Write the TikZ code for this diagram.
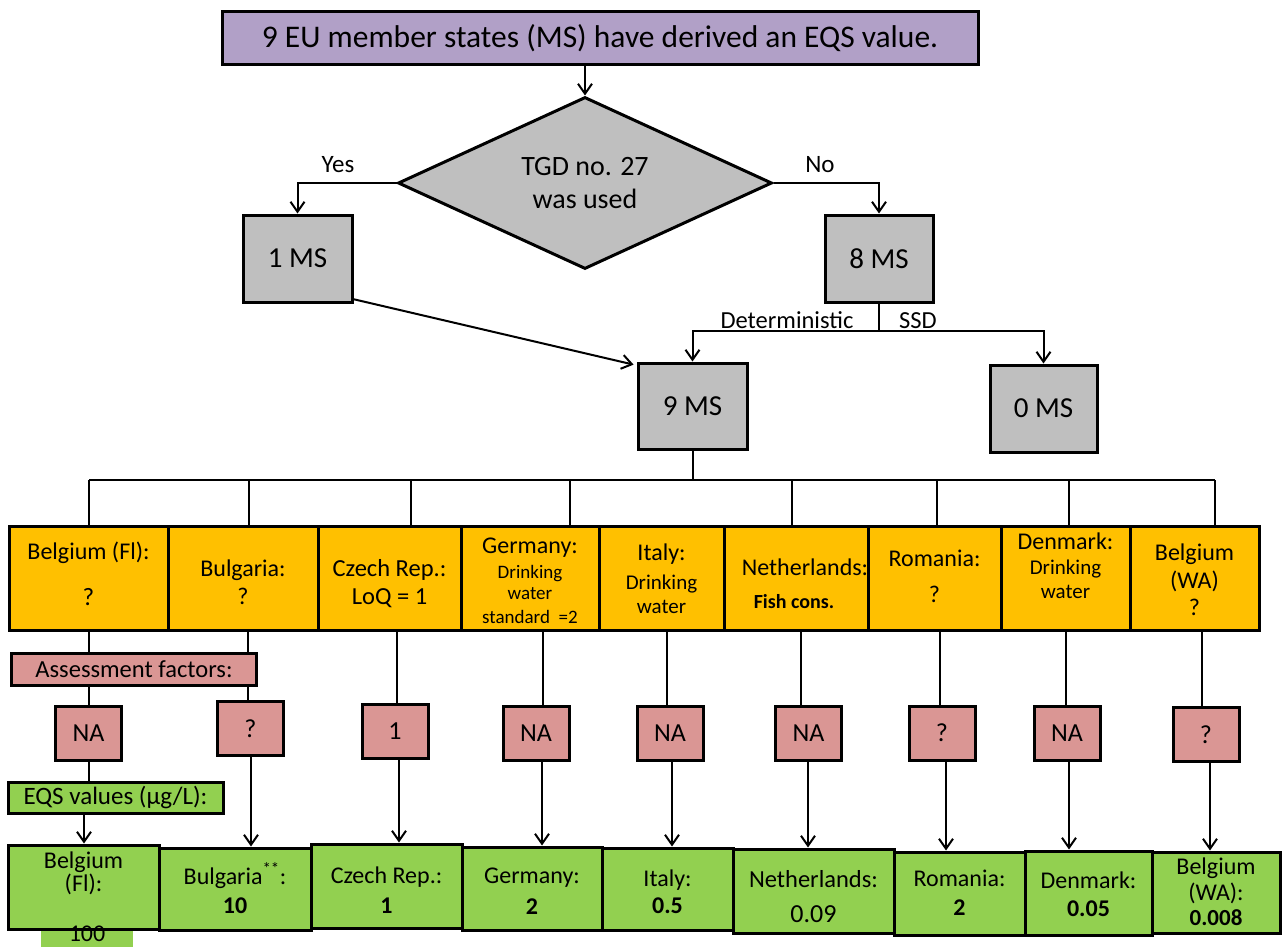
\documentclass[tikz,border=0pt]{standalone}
\usepackage{fontspec}
\setmainfont{Carlito}
\usetikzlibrary{shapes.geometric,arrows.meta}
\newcommand\fsz[1]{\fontsize{#1}{#1}\selectfont}
\definecolor{hdrpurple}{RGB}{177,160,199}
\definecolor{msgray}{RGB}{191,191,191}
\definecolor{msorange}{RGB}{255,192,0}
\definecolor{afpink}{RGB}{218,150,148}
\definecolor{eqsgreen}{RGB}{146,208,80}

\begin{document}
\begin{tikzpicture}[x=1pt,y=-1pt,
  box/.style={draw=black,line width=3pt,inner sep=0pt,align=center,text=black},
  msbox/.style={box,fill=msgray,minimum height=87pt,font=\fsz{29}},
  obox/.style={box,fill=msorange,minimum height=104pt},
  pbox/.style={box,fill=afpink,minimum width=66pt,minimum height=54pt,font=\fsz{26}},
  gbox/.style={box,fill=eqsgreen},
  lbl/.style={inner sep=0pt,anchor=base,align=center,text=black},
  link/.style={line width=2pt},
  arr/.style={line width=2pt,-{Straight Barb[length=10pt,width=14pt]}},
]
\useasboundingbox (0,0) rectangle (1283,947);
\clip (0,0) rectangle (1283,947);

% ---- decision part ----
\node[box,fill=hdrpurple,minimum width=756pt,minimum height=53pt,font=\fsz{31.5}]
  (title) at (600,38.5) {9 EU member states (MS) have derived an EQS value.};
\node[box,diamond,fill=msgray,aspect=2.17,minimum width=374pt,minimum height=172pt,
  font=\fontsize{28}{33}\selectfont] (dec) at (585,183) {TGD no. 27\\was used};
\draw[arr] (dec.north |- title.south) -- (dec.north);

\node[msbox,minimum width=109pt] (ms1) at (297.5,258.5) {1 MS};
\node[msbox,minimum width=108pt] (ms8) at (879,258.5) {8 MS};
\node[msbox,minimum width=109pt,minimum height=86pt] (ms9) at (692.5,406) {9 MS};
\node[msbox,minimum width=107pt] (ms0) at (1043.5,408.5) {0 MS};

\draw[arr] (dec.west) -| (ms1.north);
\draw[arr] (dec.east) -| (ms8.north);
\node[font=\fsz{25},inner sep=0pt] (yes) at (338,165) {Yes};
\node[font=\fsz{25},inner sep=0pt] (no) at (820,165) {No};

\draw[arr,shorten >=3pt] (ms1.-36) -- (ms9.144);

\coordinate (split) at (879,331);
\draw[link] (ms8.south) -- (split);
\draw[arr] (split) -| (ms9.north);
\draw[arr] (split) -| (ms0.north);
\node[lbl,font=\fsz{24.5}] (det) at (787,328) {Deterministic};
\node[lbl,font=\fsz{24.5}] (ssd) at (918,328) {SSD};

% ---- member state boxes ----
\node[obox,minimum width=159pt] (o1) at (88.5,578) {};
\node[obox,minimum width=150pt] (o2) at (243,578) {};
\node[obox,minimum width=143pt] (o3) at (389.5,578) {};
\node[obox,minimum width=138pt] (o4) at (530,578) {};
\node[obox,minimum width=125pt] (o5) at (661.5,578) {};
\node[obox,minimum width=144pt] (o6) at (796,578) {};
\node[obox,minimum width=133pt] (o7) at (934.5,578) {};
\node[obox,minimum width=129pt] (o8) at (1065.5,578) {};
\node[obox,minimum width=129pt] (o9) at (1194.5,578) {};

\node[lbl,font=\fsz{24}] (t1a) at (88.5,559) {Belgium (Fl):};
\node[lbl,font=\fsz{25}] (t1b) at (88.5,605) {?};
\node[lbl,font=\fsz{24}] (t2a) at (243,576) {Bulgaria:};
\node[lbl,font=\fsz{24}] (t2b) at (243,604) {?};
\node[lbl,font=\fsz{24.5}] (t3a) at (389.5,576) {Czech Rep.:};
\node[lbl,font=\fsz{24.5}] (t3b) at (389.5,604) {LoQ = 1};
\node[lbl,font=\fsz{24}] (t4a) at (530,553) {Germany:};
\node[lbl,font=\fsz{19}] (t4b) at (530,578) {Drinking};
\node[lbl,font=\fsz{19}] (t4c) at (530,599) {water};
\node[lbl,font=\fsz{19}] (t4d) at (530,623) {standard\ \ =2};
\node[lbl,font=\fsz{24}] (t5a) at (661.5,560) {Italy:};
\node[lbl,font=\fsz{21}] (t5b) at (661.5,589) {Drinking};
\node[lbl,font=\fsz{21}] (t5c) at (661.5,613) {water};
\node[lbl,font=\fsz{24}] (t6a) at (805,575) {Netherlands:};
\node[lbl,font=\bfseries\fsz{20}] (t6b) at (794,608) {Fish cons.};
\node[lbl,font=\fsz{24}] (t7a) at (934.5,566) {Romania:};
\node[lbl,font=\fsz{24}] (t7b) at (934.5,602) {?};
\node[lbl,font=\fsz{24}] (t8a) at (1065.5,549) {Denmark:};
\node[lbl,font=\fsz{21}] (t8b) at (1065.5,574) {Drinking};
\node[lbl,font=\fsz{21}] (t8c) at (1065.5,598) {water};
\node[lbl,font=\fsz{24}] (t9a) at (1194.5,560) {Belgium};
\node[lbl,font=\fsz{24}] (t9b) at (1194.5,588) {(WA)};
\node[lbl,font=\fsz{24}] (t9c) at (1194.5,615) {?};

% bus from 9 MS to the member state boxes
\foreach \x/\o in {89/o1,249/o2,411/o3,570/o4,792/o6,937/o7,1069/o8,1215/o9} {
  \coordinate (d\o) at (\x,480);
  \draw[link] (d\o) -- (d\o |- \o.north);
}
\draw[link] (do1) -- (do9);
\draw[link] (ms9.south) -- (ms9.south |- do1);

% ---- assessment factors ----
\node[box,fill=afpink,minimum width=245pt,minimum height=32pt,font=\fsz{24.5}]
  (af) at (134,669) {Assessment factors:};
\node[pbox] (p1) at (88.5,733) {NA};
\node[pbox] (p2) at (250.5,728.5) {?};
\node[pbox] (p3) at (395,731.5) {1};
\node[pbox] (p4) at (536,733) {NA};
\node[pbox] (p5) at (670,733) {NA};
\node[pbox] (p6) at (808.5,733) {NA};
\node[pbox] (p7) at (942,733) {?};
\node[pbox] (p8) at (1067,733) {NA};
\node[pbox] (p9) at (1206,734.5) {?};

\coordinate (up1) at (89,0);
\coordinate (up2) at (248,0);
\draw[link] (up1 |- o1.south) -- (up1 |- af.north);
\draw[link] (up1 |- af.south) -- (up1 |- p1.north);
\draw[link] (up2 |- o2.south) -- (up2 |- af.north);
\draw[link] (up2 |- af.south) -- (up2 |- p2.north);
\foreach \x/\o/\p in {397/o3/p3,543/o4/p4,667/o5/p5,801/o6/p6,940/o7/p7,1066/o8/p8,1202/o9/p9} {
  \coordinate (u\p) at (\x,0);
  \draw[link] (u\p |- \o.south) -- (u\p |- \p.north);
}

% ---- EQS values ----
\node[box,fill=eqsgreen,minimum width=215pt,minimum height=31pt,font=\fsz{25}]
  (eqs) at (115.5,797.5) {EQS values (µg/L):};

\fill[eqsgreen] (41,929) rectangle (133,947);
\node[gbox,minimum width=151pt,minimum height=84pt] (g1) at (83.5,887) {};
\node[gbox,minimum width=152pt,minimum height=82pt] (g2) at (235,889) {};
\node[gbox,minimum width=151pt,minimum height=84pt] (g3) at (386.5,886) {};
\node[gbox,minimum width=140pt,minimum height=83pt] (g4) at (532,888.5) {};
\node[gbox,minimum width=131pt,minimum height=82pt] (g5) at (667.5,889) {};
\node[gbox,minimum width=161pt,minimum height=84pt] (g6) at (813.5,891) {};
\node[gbox,minimum width=131pt,minimum height=83pt] (g7) at (959.5,893.5) {};
\node[gbox,minimum width=127pt,minimum height=84pt] (g8) at (1088.5,893) {};
\node[gbox,minimum width=128pt,minimum height=81pt] (g9) at (1216,892.5) {};

\node[lbl,font=\fsz{24}] (v1a) at (83.5,868) {Belgium};
\node[lbl,font=\fsz{24}] (v1b) at (83.5,891) {(Fl):};
\node[lbl,font=\fsz{24}] (v1c) at (87,941) {100};
\node[lbl,font=\fsz{24}] (v2a) at (235,884) {Bulgaria\textsuperscript{**}:};
\node[lbl,font=\bfseries\fsz{24}] (v2b) at (235,913) {10};
\node[lbl,font=\fsz{24}] (v3a) at (386.5,883) {Czech Rep.:};
\node[lbl,font=\bfseries\fsz{24}] (v3b) at (386.5,913) {1};
\node[lbl,font=\fsz{24}] (v4a) at (532,883) {Germany:};
\node[lbl,font=\bfseries\fsz{24}] (v4b) at (532,914) {2};
\node[lbl,font=\fsz{24}] (v5a) at (667.5,886) {Italy:};
\node[lbl,font=\bfseries\fsz{24}] (v5b) at (667.5,913) {0.5};
\node[lbl,font=\fsz{24.5}] (v6a) at (813.5,887) {Netherlands:};
\node[lbl,font=\fsz{26}] (v6b) at (813.5,922) {0.09};
\node[lbl,font=\fsz{24}] (v7a) at (959.5,886) {Romania:};
\node[lbl,font=\bfseries\fsz{24}] (v7b) at (959.5,915) {2};
\node[lbl,font=\fsz{24}] (v8a) at (1088.5,888) {Denmark:};
\node[lbl,font=\bfseries\fsz{24}] (v8b) at (1088.5,916) {0.05};
\node[lbl,font=\fsz{24}] (v9a) at (1216,874) {Belgium};
\node[lbl,font=\fsz{24}] (v9b) at (1216,900) {(WA):};
\node[lbl,font=\bfseries\fsz{23}] (v9c) at (1216,925) {0.008};

% links from assessment factors to EQS values
\draw[link] (p1.south) -- (p1.south |- eqs.north);
\coordinate (wg1) at (84,0);
\draw[arr] (wg1 |- eqs.south) -- (wg1 |- g1.north);
\foreach \x/\p/\g in {251/p2/g2,399/p3/g3,542/p4/g4,672/p5/g5,808/p6/g6,946/p7/g7,1069/p8/g8,1210/p9/g9} {
  \coordinate (w\g) at (\x,0);
  \draw[arr] (w\g |- \p.south) -- (w\g |- \g.north);
}
\end{tikzpicture}
\end{document}
